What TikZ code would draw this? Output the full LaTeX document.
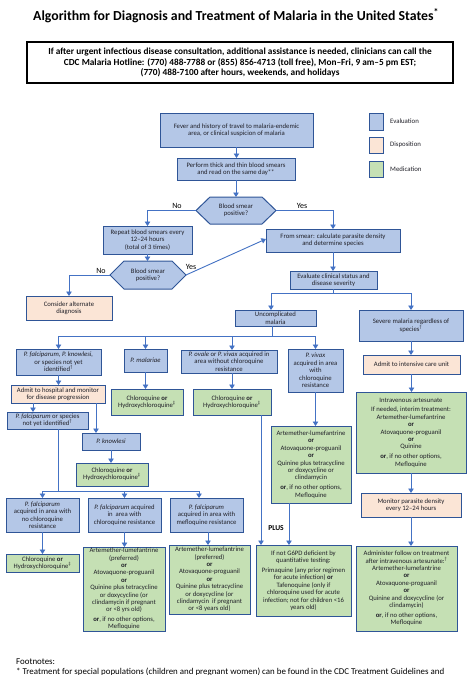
\documentclass[tikz,border=0pt]{standalone}
\usepackage{fontspec}
\setmainfont{Carlito}
\usetikzlibrary{arrows.meta}
\definecolor{evalf}{HTML}{B4C7E7}
\definecolor{dispf}{HTML}{FBE5D6}
\definecolor{medf}{HTML}{C5E0B4}
\definecolor{bord}{HTML}{2F5597}
\definecolor{lnc}{HTML}{4472C4}
\definecolor{txt}{HTML}{202028}
\tikzset{
 base/.style={draw=bord, line width=1pt, align=center, inner xsep=1pt, inner ysep=0pt, outer sep=0pt, font=\fontsize{6.7}{7.4}\selectfont, text=txt},
 evalbox/.style={base, fill=evalf},
 dispbox/.style={base, fill=dispf},
 medbox/.style={base, fill=medf},
 conn/.style={draw=lnc, line width=0.9pt},
 arr/.style={conn, -{Triangle[width=5.5pt,length=4.5pt]}},
 lbl/.style={font=\fontsize{8}{9}\selectfont, text=black, inner sep=0pt},
 lgtext/.style={anchor=west, font=\fontsize{6.8}{8}\selectfont, text=txt, inner sep=0pt},
 hexlbl/.style={align=center, inner sep=0pt, outer sep=0pt, font=\fontsize{6.7}{7.4}\selectfont, text=txt},
}
\newcommand\bx[7]{%
 \pgfmathsetmacro\bw{#5-#3}\pgfmathsetmacro\bh{#6-#4}%
 \pgfmathsetmacro\bcx{(#3+#5)/2}\pgfmathsetmacro\bcy{(#4+#6)/2}%
 \node[#2, minimum width=\bw pt, minimum height=\bh pt] (#1) at (\bcx,\bcy) {#7};}
\newcommand\orb{\textbf{or}}
\begin{document}
\begin{tikzpicture}[x=1pt,y=-1pt]
\useasboundingbox[fill=white] (0,0) rectangle (472,675);
% title and hotline
\node[font=\bfseries\fontsize{13.8}{16}\selectfont, inner sep=0pt] (title) at (236,16) {Algorithm for Diagnosis and Treatment of Malaria in the United States\textsuperscript{*}};
\node[draw=black, line width=2.5pt, minimum width=426pt, minimum height=41pt, align=center, inner sep=0pt, font=\bfseries\fontsize{9.3}{10.5}\selectfont] (hot) at (240,62.5) {If after urgent infectious disease consultation, additional assistance is needed, clinicians can call the\\CDC Malaria Hotline: (770) 488-7788 or (855) 856-4713 (toll free), Mon--Fri, 9 am--5 pm EST;\\(770) 488-7100 after hours, weekends, and holidays};
% legend
\node[evalbox, minimum width=14pt, minimum height=17pt] (lg1) at (376,121.5) {};
\node[dispbox, minimum width=14pt, minimum height=16pt] (lg2) at (376,145) {};
\node[medbox, minimum width=14pt, minimum height=16pt] (lg3) at (376,169) {};
\node[lgtext] (lt1) at (390,121.5) {Evaluation};
\node[lgtext] (lt2) at (390,145) {Disposition};
\node[lgtext] (lt3) at (390,169) {Medication};
% boxes
\bx{fever}{evalbox}{160}{113}{313}{147}{Fever and history of travel to malaria-endemic\\area, or clinical suspicion of malaria}
\bx{smear}{evalbox}{177}{158}{295}{180}{Perform thick and thin blood smears\\and read on the same day**}
\bx{rep}{evalbox}{103}{226}{192}{254}{Repeat blood smears every\\12--24 hours\\(total of 3 times)}
\bx{alt}{dispbox}{26}{296}{112}{320}{Consider alternate\\diagnosis}
\bx{from}{evalbox}{266}{229}{400}{252}{From smear: calculate parasite density\\and determine species}
\bx{evl}{evalbox}{290}{271}{377}{289}{Evaluate clinical status and\\disease severity}
\bx{uncomp}{evalbox}{235}{310}{316}{326}{Uncomplicated\\malaria}
\bx{severe}{evalbox}{359}{310}{463}{341}{Severe malaria regardless of\\species\textsuperscript{†}}
\bx{pfk}{evalbox}{16}{349}{101}{375}{\textit{P. falciparum, P. knowlesi,}\\or species not yet\\identified\textsuperscript{†}}
\bx{pm}{evalbox}{124}{349}{167}{372}{\textit{P. malariae}}
\bx{pov}{evalbox}{181}{350}{277}{373}{\textit{P. ovale} or \textit{P. vivax} acquired in\\area without chloroquine\\resistance}
\bx{pv}{evalbox}{288}{349}{343}{392}{\textit{P. vivax}\\acquired in area\\with\\chloroquine\\resistance}
\bx{icu}{dispbox}{363}{355}{460}{374}{Admit to intensive care unit}
\bx{iv}{medbox}{356}{392}{466}{473}{Intravenous artesunate\\[2.5pt]If needed, interim treatment:\\Artemether-lumefantrine\\\orb\\Atovaquone-proguanil\\\orb\\Quinine\\[2.5pt]\orb, if no other options,\\Mefloquine}
\bx{monitor}{dispbox}{361}{493}{461}{517}{Monitor parasite density\\every 12--24 hours}
\bx{follow}{medbox}{356}{546}{457}{631}{Administer follow on treatment\\after intravenous artesunate:\textsuperscript{†}\\Artemether-lumefantrine\\\orb\\Atovaquone-proguanil\\\orb\\Quinine and doxycycline (or\\clindamycin)\\[2.5pt]\orb, if no other options,\\Mefloquine}
\bx{admit}{dispbox}{11}{385}{105}{403}{Admit to hospital and monitor\\for disease progression}
\bx{pfs}{evalbox}{7}{412}{88}{429}{\textit{P. falciparum} or species\\not yet identified\textsuperscript{†}}
\bx{pk}{evalbox}{82}{433}{140}{450}{\textit{P. knowlesi}}
\bx{cqk}{medbox}{76}{463}{148}{486}{Chloroquine \orb\\Hydroxychloroquine\textsuperscript{‡}}
\bx{cqm}{medbox}{111}{389}{183}{415}{Chloroquine \orb\\Hydroxychloroquine\textsuperscript{‡}}
\bx{cqo}{medbox}{193}{389}{271}{415}{Chloroquine \orb\\Hydroxychloroquine\textsuperscript{‡}}
\bx{pvmed}{medbox}{271}{426}{351}{503}{Artemether-lumefantrine\\\orb\\Atovaquone-proguanil\\\orb\\Quinine plus tetracycline\\or doxycycline or\\clindamycin\\[2.5pt]\orb, if no other options,\\Mefloquine}
\bx{g6pd}{medbox}{256}{545}{351}{616}{If not G6PD deficient by\\quantitative testing:\\[2.5pt]Primaquine (any prior regimen\\for acute infection) \orb\\Tafenoquine (only if\\chloroquine used for acute\\infection; not for children <16\\years old)}
\bx{pf1}{evalbox}{6}{498}{79}{532}{\textit{P. falciparum}\\acquired in area with\\no chloroquine\\resistance}
\bx{pf2}{evalbox}{88}{498}{161}{532}{\textit{P. falciparum} acquired\\in\ \ area with\\chloroquine resistance}
\bx{pf3}{evalbox}{170}{498}{243}{532}{\textit{P. falciparum}\\acquired in area with\\mefloquine resistance}
\bx{cq1}{medbox}{6}{554}{79}{572}{Chloroquine \orb\\Hydroxychloroquine\textsuperscript{‡}}
\bx{am2}{medbox}{83}{547}{165}{631}{Artemether-lumefantrine\\(preferred)\\\orb\\Atovaquone-proguanil\\\orb\\Quinine plus tetracycline\\or doxycycline (or\\clindamycin if pregnant\\or <8 yrs old)\\[2pt]\orb, if no other options,\\Mefloquine}
\bx{am3}{medbox}{169}{545}{250}{614}{Artemether-lumefantrine\\(preferred)\\\orb\\Atovaquone-proguanil\\\orb\\Quinine plus tetracycline\\or doxycycline (or\\clindamycin\ \ if pregnant\\or <8 years old)}
% hexagons
\draw[draw=bord, fill=evalf, line width=1pt] (196,210.5) -- (210,197) -- (262,197) -- (276,210.5) -- (262,224) -- (210,224) -- cycle;
\node[hexlbl, minimum width=80pt, minimum height=27pt] (h1) at (236,210.5) {Blood smear\\positive?};
\draw[draw=bord, fill=evalf, line width=1pt] (110,275) -- (124,261) -- (172,261) -- (186,275) -- (172,289) -- (124,289) -- cycle;
\node[hexlbl, minimum width=76pt, minimum height=28pt] (h2) at (148,275) {Blood smear\\positive?};
% labels
\node[lbl] (no1) at (177,205.5) {No};
\node[lbl] (yes1) at (302,206) {Yes};
\node[lbl] (no2) at (101,270.5) {No};
\node[lbl] (yes2) at (191,267) {Yes};
\node[font=\bfseries\fontsize{7.5}{8}\selectfont, inner sep=0pt] (plus) at (276,528) {PLUS};
% junctions
\coordinate (j1) at (333.5,293);
\coordinate (j2) at (272,336);
\coordinate (j3) at (58,491);
% connectors
\draw[arr] (fever.south) -- (fever.south |- smear.north);
\draw[arr] (smear.south) -- (smear.south |- h1.north);
\draw[arr] (h1.west) -| (rep.north);
\draw[arr] (h1.east) -| (from.north);
\draw[arr] (rep.south) -- (rep.south |- h2.north);
\draw[arr] (h2.west) -| (alt.north);
\draw[arr] (h2.east) -- ([yshift=1.5pt]from.west);
\draw[arr] (from.south) -- (from.south |- evl.north);
\draw[conn] (evl.south) -- (j1);
\draw[arr] (j1) -| ([xshift=-4.5pt]uncomp.north);
\draw[arr] (j1) -| (severe.north);
\draw[conn] (uncomp.south -| j2) -- (j2);
\draw[arr] (j2) -| (pfk.north);
\draw[arr] (j2) -| (pm.north);
\draw[arr] (j2) -| ([xshift=3pt]pov.north);
\draw[arr] (j2) -| (pv.north);
\draw[arr] (severe.south) -- (severe.south |- icu.north);
\draw[arr] (icu.south) -- (icu.south |- iv.north);
\draw[arr] (iv.south) -- (iv.south |- monitor.north);
\draw[arr] (monitor.south) -- (monitor.south |- follow.north);
\draw[arr] (pfk.south) -- (pfk.south |- admit.north);
\draw[arr] ([xshift=-25pt]admit.south) -- ([xshift=-25pt]admit.south |- pfs.north);
\draw[arr] ([xshift=38pt]admit.south) -- ([xshift=38pt]admit.south |- pk.north);
\draw[arr] (pk.south) -- (pk.south |- cqk.north);
\draw[arr] (pm.south) -- (pm.south |- cqm.north);
\draw[arr] (cqo.north |- pov.south) -- (cqo.north);
\draw[arr] (pv.south) -- (pv.south |- pvmed.north);
\draw[arr] ([xshift=29pt]cqo.south) -- ([xshift=29pt]cqo.south |- g6pd.north);
\draw[arr] ([xshift=-22pt]pvmed.south) -- ([xshift=-22pt]pvmed.south |- g6pd.north);
\draw[conn] ([xshift=10.5pt]pfs.south) -- (j3);
\draw[arr] (j3) -| (pf1.north);
\draw[arr] (j3) -| (pf2.north);
\draw[arr] (j3) -| ([xshift=-7.5pt]pf3.north);
\draw[arr] (pf1.south) -- (pf1.south |- cq1.north);
\draw[arr] (pf2.south) -- (pf2.south |- am2.north);
\draw[arr] ([xshift=1.5pt]pf3.south) -- ([xshift=1.5pt]pf3.south |- am3.north);
% footnotes
\node[anchor=base west, inner sep=0pt, font=\fontsize{8.9}{10}\selectfont] (fn1) at (16,664) {Footnotes:};
\node[anchor=base west, inner sep=0pt, font=\fontsize{8.9}{10}\selectfont] (fn2) at (16,674) {* Treatment for special populations (children and pregnant women) can be found in the CDC Treatment Guidelines and};
\end{tikzpicture}
\end{document}
